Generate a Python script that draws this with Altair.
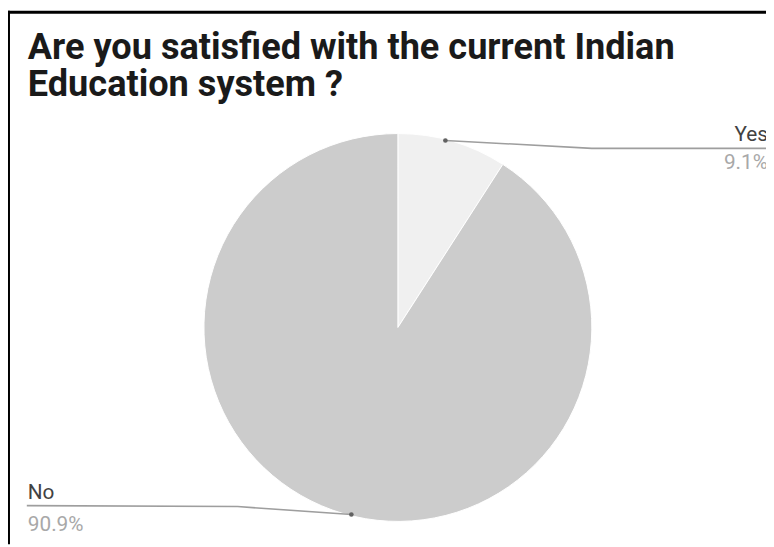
import altair as alt
import pandas as pd

# ---- data ----
categories = ["Yes", "No"]
values = [9.1, 90.9]
colors = ["#f0f0f0", "#cccccc"]
title_lines = ["Are you satisfied with the current Indian", "Education system ?"]

# ---- layout (chart pixel coordinates; page = chart + 8) ----
W, H = 766, 539
CX, CY, R = 394, 320, 196

# leader lines: list of (x, y) per category
leaders = {
    "Yes": [(442, 131), (590, 139), (770, 139)],
    "No": [(347, 509), (232, 501), (19, 500)],
}
name_pos = {"Yes": (768, 132, "right"), "No": (20, 493, "left")}
pct_pos = {"Yes": (768, 160, "right"), "No": (20, 526, "left")}

df = pd.DataFrame({"category": categories, "value": values,
                   "order": list(range(len(categories)))})
df["pct"] = [f"{v:.1f}%" for v in values]

pie = alt.Chart(df).mark_arc(outerRadius=R, stroke="white", strokeWidth=1).encode(
    theta=alt.Theta("value:Q", stack=True),
    color=alt.Color("category:N", scale=alt.Scale(domain=categories, range=colors), legend=None),
    order=alt.Order("order:Q"),
    x=alt.value(CX),
    y=alt.value(CY),
)

rows = []
for cat, pts in leaders.items():
    for i, (px, py) in enumerate(pts):
        rows.append({"category": cat, "i": i, "px": px, "py": py})
ldf = pd.DataFrame(rows)

lines = alt.Chart(ldf).mark_line(color="#9e9e9e", strokeWidth=1.6).encode(
    x=alt.X("px:Q", scale=None),
    y=alt.Y("py:Q", scale=None),
    detail="category:N",
    order="i:Q",
)
dots = alt.Chart(ldf[ldf["i"] == 0]).mark_circle(color="#616161", size=22, opacity=1).encode(
    x=alt.X("px:Q", scale=None),
    y=alt.Y("py:Q", scale=None),
)

layers = [pie, lines, dots]
for cat in categories:
    sub = df[df["category"] == cat]
    nx, ny, na = name_pos[cat]
    px_, py_, pa = pct_pos[cat]
    layers.append(alt.Chart(sub).mark_text(align=na, baseline="alphabetic", font="Roboto",
                                           fontSize=21, color="#424242").encode(
        text="category:N", x=alt.value(nx), y=alt.value(ny)))
    layers.append(alt.Chart(sub).mark_text(align=pa, baseline="alphabetic", font="Roboto",
                                           fontSize=21, color="#a8a8a8").encode(
        text="pct:N", x=alt.value(px_), y=alt.value(py_)))

one = pd.DataFrame({"k": [0]})
for i, line in enumerate(title_lines):
    layers.append(alt.Chart(one).mark_text(text=line, align="left", baseline="alphabetic",
                                           font="Roboto", fontWeight="bold", fontSize=36.5,
                                           color="#1a1a1a").encode(
        x=alt.value(20), y=alt.value(49 + i * 37)))

# frame lines (top and left)
layers.append(alt.Chart(one).mark_rule(color="#000000", strokeWidth=3).encode(
    x=alt.value(0), x2=alt.value(W), y=alt.value(1.5)))
layers.append(alt.Chart(one).mark_rule(color="#000000", strokeWidth=3).encode(
    x=alt.value(0.5), y=alt.value(0), y2=alt.value(H)))

chart = alt.layer(*layers).properties(
    width=W, height=H, autosize="none", padding=0, background="white"
).configure_view(strokeWidth=0)

chart.save("out.html", embed_options={"renderer": "svg", "actions": False})
